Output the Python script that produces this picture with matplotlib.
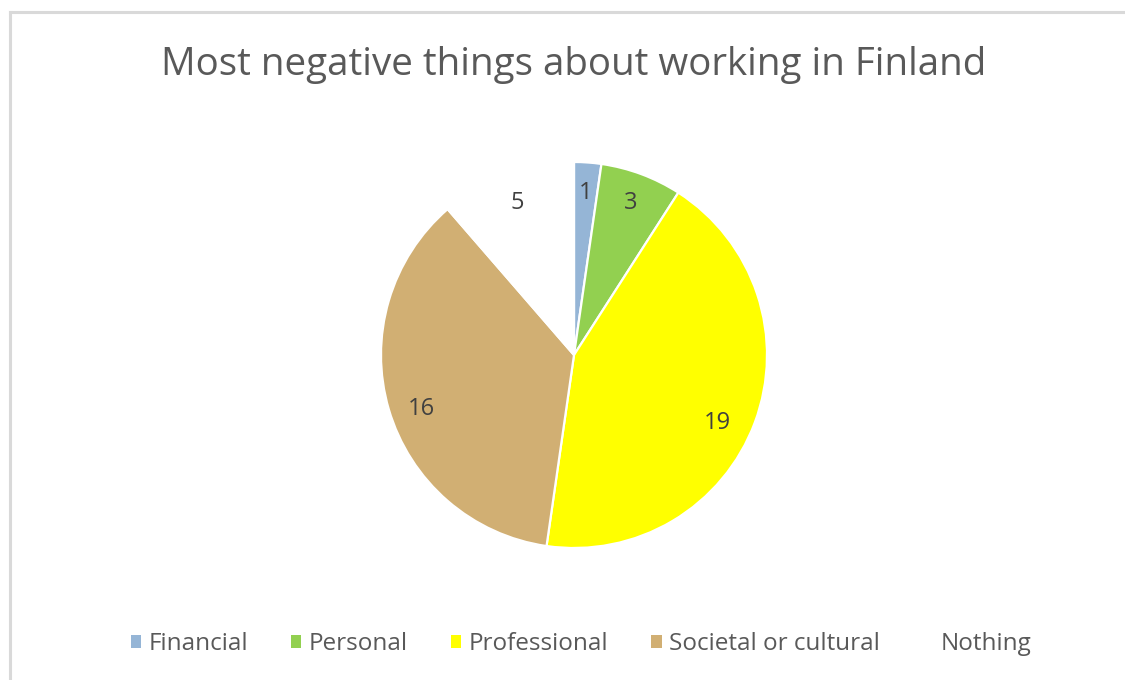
import numpy as np
import matplotlib.pyplot as plt
from matplotlib.lines import Line2D

categories = ['Financial', 'Personal', 'Professional', 'Societal or cultural', 'Nothing']
counts = [1, 3, 19, 16, 5]
colors = ['#95B5D6', '#92D050', '#FFFF00', '#D1AF73', '#FFFFFF']
title = 'Most negative things about working in Finland'

plt.rcParams['font.family'] = ['Open Sans', 'DejaVu Sans']

fig = plt.figure(figsize=(11.25, 6.8), dpi=100)
W, H = 1125, 680

# pie area: centre (574, 355) px, radius 193 px
cx, cy, r = 574, 355, 193
ax = fig.add_axes([(cx - r) / W, (H - cy - r) / H, 2 * r / W, 2 * r / H])

wedges, texts, autotexts = ax.pie(
    counts, colors=colors, startangle=90, counterclock=False,
    autopct=lambda p: '%d' % round(p * sum(counts) / 100.0),
    pctdistance=0.84, radius=1.0,
    wedgeprops=dict(edgecolor='white', linewidth=1.6),
    textprops=dict(color='#404040', fontsize=17))
ax.set_xlim(-1, 1)
ax.set_ylim(-1, 1)
ax.set_aspect('equal')
ax.axis('off')

# nudge the two big labels a little along the arc (best-fit placement)
nudge = {2: (5.0, 0.82), 3: (-3.0, 0.84)}
for i, (dang, dist) in nudge.items():
    w = wedges[i]
    mid = np.deg2rad((w.theta1 + w.theta2) / 2 - dang)
    autotexts[i].set_position((dist * np.cos(mid), dist * np.sin(mid)))

fig.text(cx / W, 1 - 65 / H, title, ha='center', va='center',
         fontsize=27.7, color='#595959')

leg = fig.legend(wedges, categories, loc='center', ncol=5,
                 bbox_to_anchor=(581 / W, 1 - 644 / H), frameon=False,
                 fontsize=17.5, handlelength=0.42, handleheight=0.42,
                 handletextpad=0.3, columnspacing=1.78, labelcolor='#595959')
for h in leg.legend_handles:
    h.set_edgecolor('none')

# light grey frame along the left and top edges
fig.add_artist(Line2D([9.5 / W, 9.5 / W], [0, 1 - 11.5 / H],
                      transform=fig.transFigure, color='#D9D9D9', lw=2.2))
fig.add_artist(Line2D([9.5 / W, 1], [1 - 11.5 / H, 1 - 11.5 / H],
                      transform=fig.transFigure, color='#D9D9D9', lw=2.2))

fig.savefig('out.png', dpi=100, facecolor='white')
